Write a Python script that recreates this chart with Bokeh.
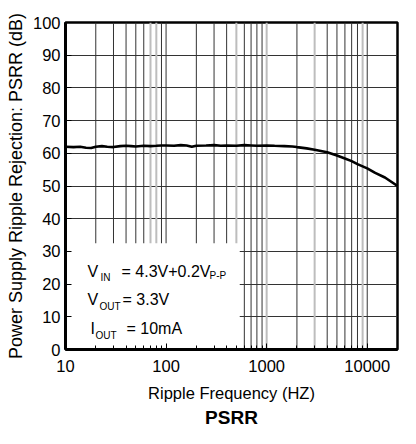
from bokeh.plotting import figure
from bokeh.embed import file_html
from bokeh.resources import INLINE
from bokeh.models import FixedTicker, Label, Range1d

# measured curve: ripple frequency (Hz) vs PSRR (dB)
freq = [10, 12, 14, 16, 18, 20, 23, 26, 30, 35, 40, 45, 50, 60, 70, 80, 90, 100,
        120, 140, 160, 180, 200, 250, 300, 350, 400, 500, 600, 700, 800, 1000,
        1200, 1500, 1800, 2000, 2500, 3000, 4000, 5000, 6000, 7000, 8000,
        10000, 12000, 15000, 20000]
psrr = [62.0, 61.9, 62.0, 61.7, 61.6, 62.0, 62.2, 62.0, 61.9, 62.2, 62.3, 62.2,
        62.1, 62.3, 62.2, 62.3, 62.4, 62.4, 62.3, 62.5, 62.4, 62.0, 62.3, 62.4,
        62.5, 62.3, 62.4, 62.3, 62.5, 62.4, 62.3, 62.4, 62.3, 62.2, 62.1, 61.9,
        61.5, 61.1, 60.3, 59.3, 58.4, 57.6, 56.7, 55.4, 54.0, 52.6, 50.0]

x_major = [10, 100, 1000, 10000]
y_major = [0, 10, 20, 30, 40, 50, 60, 70, 80, 90, 100]
grid_dark = [20, 30, 40, 50, 60, 90, 100, 200, 300, 400, 600, 700, 800, 900,
             2000, 4000, 5000, 6000, 7000, 8000, 10000]
grid_light = [70, 80, 500, 1000, 3000, 9000]
minor_x = [20, 30, 40, 50, 60, 70, 80, 90, 200, 300, 400, 500, 600, 700, 800,
           900, 2000, 3000, 4000, 5000, 6000, 7000, 8000, 9000]

# conditions box (covers the grid in the lower left)
box_f = [10, 540]
box_db = [0, 32.5]

FONT = "Liberation Sans"

p = figure(width=400, height=428, x_axis_type="log",
           x_range=Range1d(10, 20000), y_range=Range1d(0, 100),
           output_backend="svg", toolbar_location=None,
           title="PSRR", title_location="below",
           x_axis_label="Ripple Frequency (HZ)",
           y_axis_label="Power Supply Ripple Rejection: PSRR (dB)",
           min_border_left=65, min_border_right=3, min_border_top=22,
           min_border_bottom=75)

# vertical grid lines
p.segment(x0=grid_dark, x1=grid_dark, y0=[0] * len(grid_dark), y1=[100] * len(grid_dark),
          line_color="#333333", line_width=1)
p.segment(x0=grid_light, x1=grid_light, y0=[0] * len(grid_light), y1=[100] * len(grid_light),
          line_color="#bdbdbd", line_width=2)

p.quad(left=box_f[0], right=box_f[1], bottom=box_db[0], top=box_db[1],
       fill_color="white", line_color=None)

p.line(freq, psrr, line_color="black", line_width=2.6)

p.xgrid.visible = False
p.ygrid.ticker = FixedTicker(ticks=y_major)
p.ygrid.grid_line_color = "#333333"
p.ygrid.grid_line_width = 1

p.xaxis.ticker = FixedTicker(ticks=x_major, minor_ticks=minor_x)
p.xaxis.major_label_overrides = {10: "10", 100: "100", 1000: "1000", 10000: "10000"}
p.yaxis.ticker = FixedTicker(ticks=y_major)

for ax in (p.xaxis, p.yaxis):
    ax.axis_line_color = "black"
    ax.axis_line_width = 3
    ax.major_tick_in = 6
    ax.major_tick_out = 0
    ax.minor_tick_in = 4
    ax.minor_tick_out = 0
    ax.major_tick_line_color = "black"
    ax.minor_tick_line_color = "black"
    ax.major_label_text_font = FONT
    ax.major_label_text_font_size = "16.5px"
    ax.major_label_text_color = "black"
    ax.axis_label_text_color = "black"
    ax.axis_label_text_font_style = "normal"
    ax.axis_label_text_font = FONT

p.xaxis.major_label_standoff = 10
p.yaxis.major_label_standoff = 5
p.xaxis.axis_label_text_font_size = "16.5px"
p.xaxis.axis_label_standoff = 9
p.yaxis.axis_label_text_font_size = "18px"
p.yaxis.axis_label_standoff = 4

p.title.text_font = FONT
p.title.text_font_style = "bold"
p.title.text_font_size = "19px"
p.title.align = "center"
p.title.text_color = "black"
p.title.standoff = 1

p.outline_line_color = "black"
p.outline_line_width = 2.5
p.background_fill_color = "white"
p.border_fill_color = "white"

# test conditions; screen offsets are measured from the frame's lower left corner
conds = [
    ("V", 22, 78, 16), ("IN", 35, 72, 10), ("= 4.3V+0.2V", 56, 78, 16), ("P-P", 144, 74, 10),
    ("V", 22, 50, 16), ("OUT", 34, 43, 10), ("= 3.3V", 57, 50, 16),
    ("I", 25, 21, 16), ("OUT", 30, 14, 10), ("= 10mA", 61, 21, 16),
]
for txt, cx, cy, fs in conds:
    p.add_layout(Label(x=cx, y=cy, x_units="screen", y_units="screen", text=txt,
                       text_font=FONT, text_font_size=f"{fs}px",
                       text_color="black", text_baseline="alphabetic"))

open("out.html", "w").write(file_html(p, INLINE))
